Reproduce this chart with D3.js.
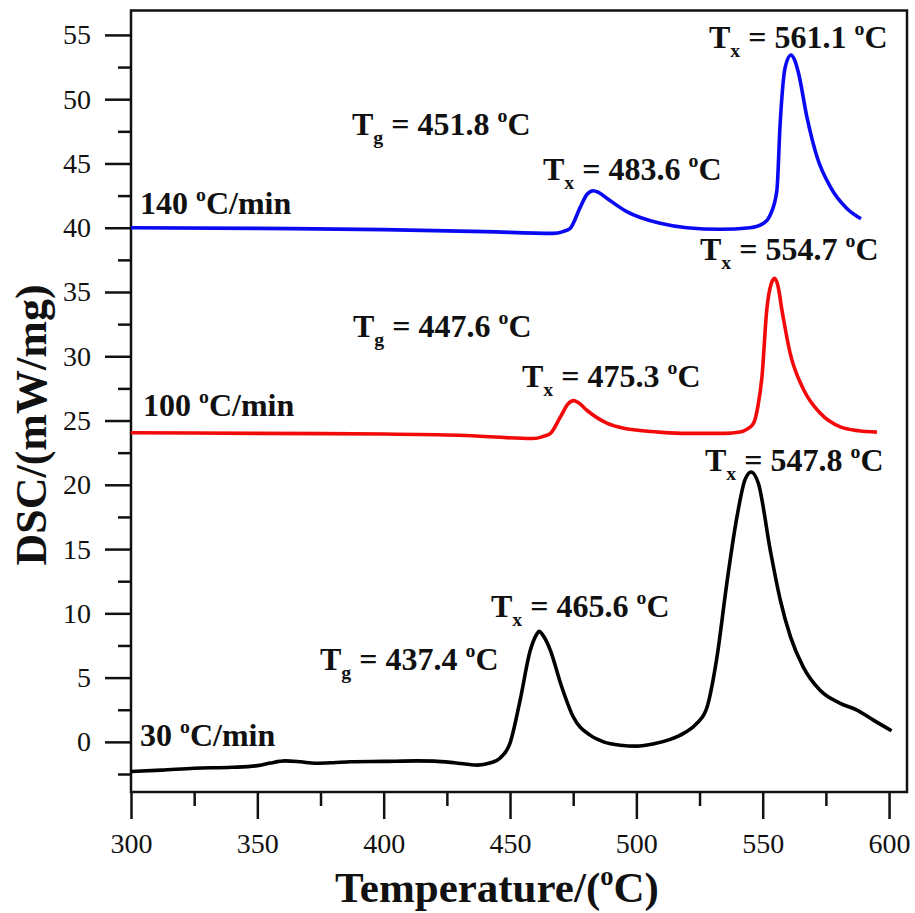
<!DOCTYPE html>
<html>
<head>
<meta charset="utf-8">
<script src="https://cdn.jsdelivr.net/npm/d3@7"></script>
<style>
  body { margin: 0; background: #fff; }
  svg { display: block; }
</style>
</head>
<body>
<svg id="chart" width="915" height="913"></svg>
<script>
// data: [temperature, DSC]
const run30 = [
  [300, -2.30], [312, -2.2], [325, -2.05], [340, -1.98], [350, -1.85], [355, -1.65],
  [361, -1.48], [367, -1.55], [373, -1.66], [380, -1.62], [387, -1.55], [400, -1.52],
  [413, -1.48], [420, -1.5], [428, -1.62], [437, -1.81], [442, -1.65], [446, -1.27],
  [450, -0.1], [454, 3.25], [458, 7.1], [460.5, 8.35], [461.5, 8.6], [463, 8.3],
  [466, 7.1], [470, 4.55], [475, 1.95], [481.7, 0.52], [487, 0.0], [493.6, -0.26],
  [500, -0.33], [507, -0.15], [513.4, 0.19], [519, 0.7], [524, 1.45], [528, 2.72],
  [531.9, 6.6], [535.8, 12.35], [539.8, 17.5], [543, 20.4], [545.4, 21.0], [548.3, 20.1],
  [553, 14.9], [557, 11.0], [561, 8.17], [566, 5.84], [572.8, 4.0], [580.7, 3.0],
  [587.3, 2.47], [593.8, 1.69], [601, 0.86]
];
const run100 = [
  [300, 24.05], [350, 24.0], [400, 23.95], [430, 23.85], [459, 23.6], [463, 23.75],
  [466, 24.0], [470, 25.3], [473, 26.3], [475.1, 26.55], [477, 26.4], [480.4, 25.8],
  [488.3, 24.8], [495, 24.4], [500, 24.26], [510, 24.08], [520, 24.0], [535, 24.0],
  [541, 24.1], [544, 24.35], [546.4, 24.8], [548, 26.0], [549.7, 28.4], [551.6, 33.6],
  [553.3, 35.6], [554.7, 36.06], [556, 35.5], [557.6, 33.6], [560.9, 30.2], [566.2, 27.4],
  [572.8, 25.56], [580.7, 24.5], [588, 24.2], [595.2, 24.1]
];
const run140 = [
  [300, 40.0], [350, 39.95], [400, 39.85], [440, 39.7], [467, 39.56], [471, 39.7],
  [473.8, 39.95], [477.8, 41.6], [480.5, 42.6], [483, 42.88], [485, 42.75], [488.3, 42.3],
  [496.2, 41.25], [509.4, 40.34], [520, 40.0], [533.2, 39.88], [545, 40.0], [550.3, 40.34],
  [553, 41.0], [555.6, 42.9], [556.9, 48.1], [558.9, 52.5], [561.2, 53.44], [562.5, 53.1],
  [564.2, 52.0], [567.5, 48.6], [571.5, 45.5], [576.7, 43.2], [583.3, 41.5], [588.9, 40.7]
];
const xTicks = [300, 350, 400, 450, 500, 550, 600];
const yTicks = [0, 5, 10, 15, 20, 25, 30, 35, 40, 45, 50, 55];
const rateLabels = ["140", "100", "30"];
// [letter, value]
const peakLabels = [
  ["g", "451.8"], ["x", "483.6"], ["x", "561.1"],
  ["g", "447.6"], ["x", "475.3"], ["x", "554.7"],
  ["g", "437.4"], ["x", "465.6"], ["x", "547.8"]
];

const svg = d3.select("#chart");
const m = {left: 131, right: 907, top: 10.5, bottom: 792};
const x = d3.scaleLinear().domain([300, 607.1]).range([m.left, m.right]);
const y = d3.scaleLinear().domain([-3.9, 56.9]).range([m.bottom, m.top]);
const serif = "'Liberation Serif', 'Times New Roman', serif";

// minor ticks
const xMinor = d3.range(325, 601, 50);
const yMinor = d3.range(-2.5, 56, 5);

const gx = svg.append("g").attr("transform", `translate(0,${m.bottom})`)
  .call(d3.axisBottom(x).tickValues(xTicks).tickSize(27).tickPadding(14).tickFormat(d3.format("d")));
const gxm = svg.append("g").attr("transform", `translate(0,${m.bottom})`)
  .call(d3.axisBottom(x).tickValues(xMinor).tickSize(14).tickFormat(""));
const gy = svg.append("g").attr("transform", `translate(${m.left},0)`)
  .call(d3.axisLeft(y).tickValues(yTicks).tickSize(26).tickPadding(14).tickFormat(d3.format("d")));
const gym = svg.append("g").attr("transform", `translate(${m.left},0)`)
  .call(d3.axisLeft(y).tickValues(yMinor).tickSize(13).tickFormat(""));

[gx, gxm, gy, gym].forEach(g => {
  g.attr("font-family", serif);
  g.select(".domain").remove();
  g.selectAll(".tick line").attr("stroke", "#111").attr("stroke-width", 2.5);
  g.selectAll("text").attr("font-family", serif).attr("font-size", 28).attr("fill", "#111");
});

// frame
svg.append("rect")
  .attr("x", m.left).attr("y", m.top)
  .attr("width", m.right - m.left).attr("height", m.bottom - m.top)
  .attr("fill", "none").attr("stroke", "#111").attr("stroke-width", 2.5);

// curves
const line = d3.line().x(d => x(d[0])).y(d => y(d[1])).curve(d3.curveMonotoneX);
[[run140, "#0a0af2"], [run100, "#f20a0a"], [run30, "#000"]].forEach(([data, c]) => {
  svg.append("path").datum(data)
    .attr("d", line)
    .attr("fill", "none").attr("stroke", c).attr("stroke-width", 3.6)
    .attr("stroke-linejoin", "round");
});

// labels
function degText(sel, before, after, up) {
  sel.append("tspan").text(before);
  sel.append("tspan").text("o").attr("font-size", "62%").attr("dy", -up);
  sel.append("tspan").text(after).attr("dy", up);
}

const ratePos = [[140, 214], [143, 416], [140, 746]];
rateLabels.forEach((r, i) => {
  const t = svg.append("text")
    .attr("x", ratePos[i][0]).attr("y", ratePos[i][1])
    .attr("font-family", serif).attr("font-weight", "bold").attr("font-size", 32).attr("fill", "#111");
  degText(t, r + " ", "C/min", 13);
});

const peakPos = [
  [352, 135], [543, 180], [709, 48],
  [353, 337], [522, 387], [700, 260],
  [320, 670], [491, 617], [705, 471]
];
peakLabels.forEach((p, i) => {
  const t = svg.append("text")
    .attr("x", peakPos[i][0]).attr("y", peakPos[i][1])
    .attr("font-family", serif).attr("font-weight", "bold").attr("font-size", 32).attr("fill", "#111");
  t.append("tspan").text("T");
  t.append("tspan").text(p[0]).attr("font-size", "62%").attr("dy", 9);
  t.append("tspan").text(" = " + p[1] + " ").attr("dy", -9);
  t.append("tspan").text("o").attr("font-size", "62%").attr("dy", -13);
  t.append("tspan").text("C").attr("dy", 13);
});

// axis titles
const xt = svg.append("text")
  .attr("x", 497).attr("y", 902).attr("text-anchor", "middle")
  .attr("font-family", serif).attr("font-weight", "bold").attr("font-size", 43).attr("fill", "#111");
degText(xt, "Temperature/(", "C)", 17);

svg.append("text")
  .attr("transform", "translate(46,425) rotate(-90)")
  .attr("text-anchor", "middle")
  .attr("font-family", serif).attr("font-weight", "bold").attr("font-size", 44).attr("fill", "#111")
  .text("DSC/(mW/mg)");
</script>
</body>
</html>
